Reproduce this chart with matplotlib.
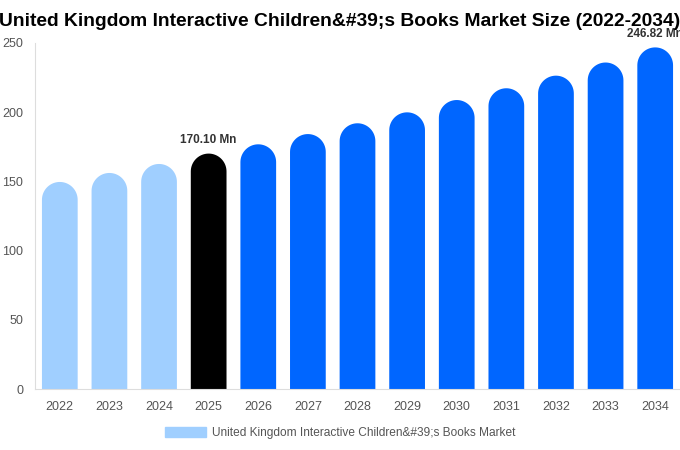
import numpy as np
import matplotlib
matplotlib.use("Agg")
import matplotlib.pyplot as plt
from matplotlib.patches import Polygon, Patch

plt.rcParams['font.family'] = ['Liberation Sans', 'DejaVu Sans']

years = ['2022', '2023', '2024', '2025', '2026', '2027', '2028',
         '2029', '2030', '2031', '2032', '2033', '2034']
values = [149.6, 156.1, 162.6, 170.10, 176.8, 184.2, 192.0,
          199.9, 208.8, 217.3, 226.4, 235.9, 246.82]
bar_colors = ['#a0cfff'] * 3 + ['#000000'] + ['#0066ff'] * 9
labels = {3: '170.10 Mn', 12: '246.82 Mn'}
series_name = 'United Kingdom Interactive Children&#39;s Books Market'
title = "United Kingdom Interactive Children&#39;s Books Market Size (2022-2034)"

fig = plt.figure(figsize=(6.8, 4.5), dpi=100)
ax = fig.add_axes([35 / 680, 1 - 389 / 450, 645 / 680, 346 / 450])

x = np.arange(len(years))
width = 0.72
ax.set_xlim(-0.5, len(years) - 0.5)
ax.set_ylim(0, 250)

# radius of the rounded cap in data units (half the bar width in pixels)
fig.canvas.draw()
px_per_x = ax.transData.transform((1, 0))[0] - ax.transData.transform((0, 0))[0]
px_per_y = ax.transData.transform((0, 1))[1] - ax.transData.transform((0, 0))[1]
r_x = width / 2
r_y = r_x * px_per_x / px_per_y


def rounded_bar(xc, h):
    t = np.linspace(0, np.pi, 40)
    arc = np.column_stack([xc + r_x * np.cos(t), h - r_y + r_y * np.sin(t)])
    pts = np.vstack([[xc + r_x, 0], arc, [xc - r_x, 0]])
    return pts


for i, v in enumerate(values):
    ax.add_patch(Polygon(rounded_bar(x[i], v), closed=True,
                         facecolor=bar_colors[i], edgecolor='none'))
    if i in labels:
        ax.text(x[i], v + 5.5, labels[i], ha='center', va='bottom',
                fontsize=8.5, fontweight='bold', color='#333333', clip_on=False)

ax.set_xticks(x)
ax.set_xticklabels(years)
ax.set_yticks([0, 50, 100, 150, 200, 250])
ax.tick_params(axis='both', length=0, colors='#555555', labelsize=9)
ax.tick_params(axis='x', pad=9)
ax.tick_params(axis='y', pad=8.5)
for s in ['top', 'right']:
    ax.spines[s].set_visible(False)
for s in ['left', 'bottom']:
    ax.spines[s].set_color('#dddddd')

fig.text(0.5, 1 - 21 / 450, title, ha='center', va='center',
         fontsize=13.9, fontweight='bold', color='#000000')

fig.legend(handles=[Patch(color='#a0cfff', label=series_name)],
           loc='center', bbox_to_anchor=(0.5, 1 - 433 / 450), frameon=False,
           fontsize=8.6, labelcolor='#555555', handlelength=3.4, handleheight=1.0,
           handletextpad=0.5)

fig.savefig('out.png', dpi=100)
